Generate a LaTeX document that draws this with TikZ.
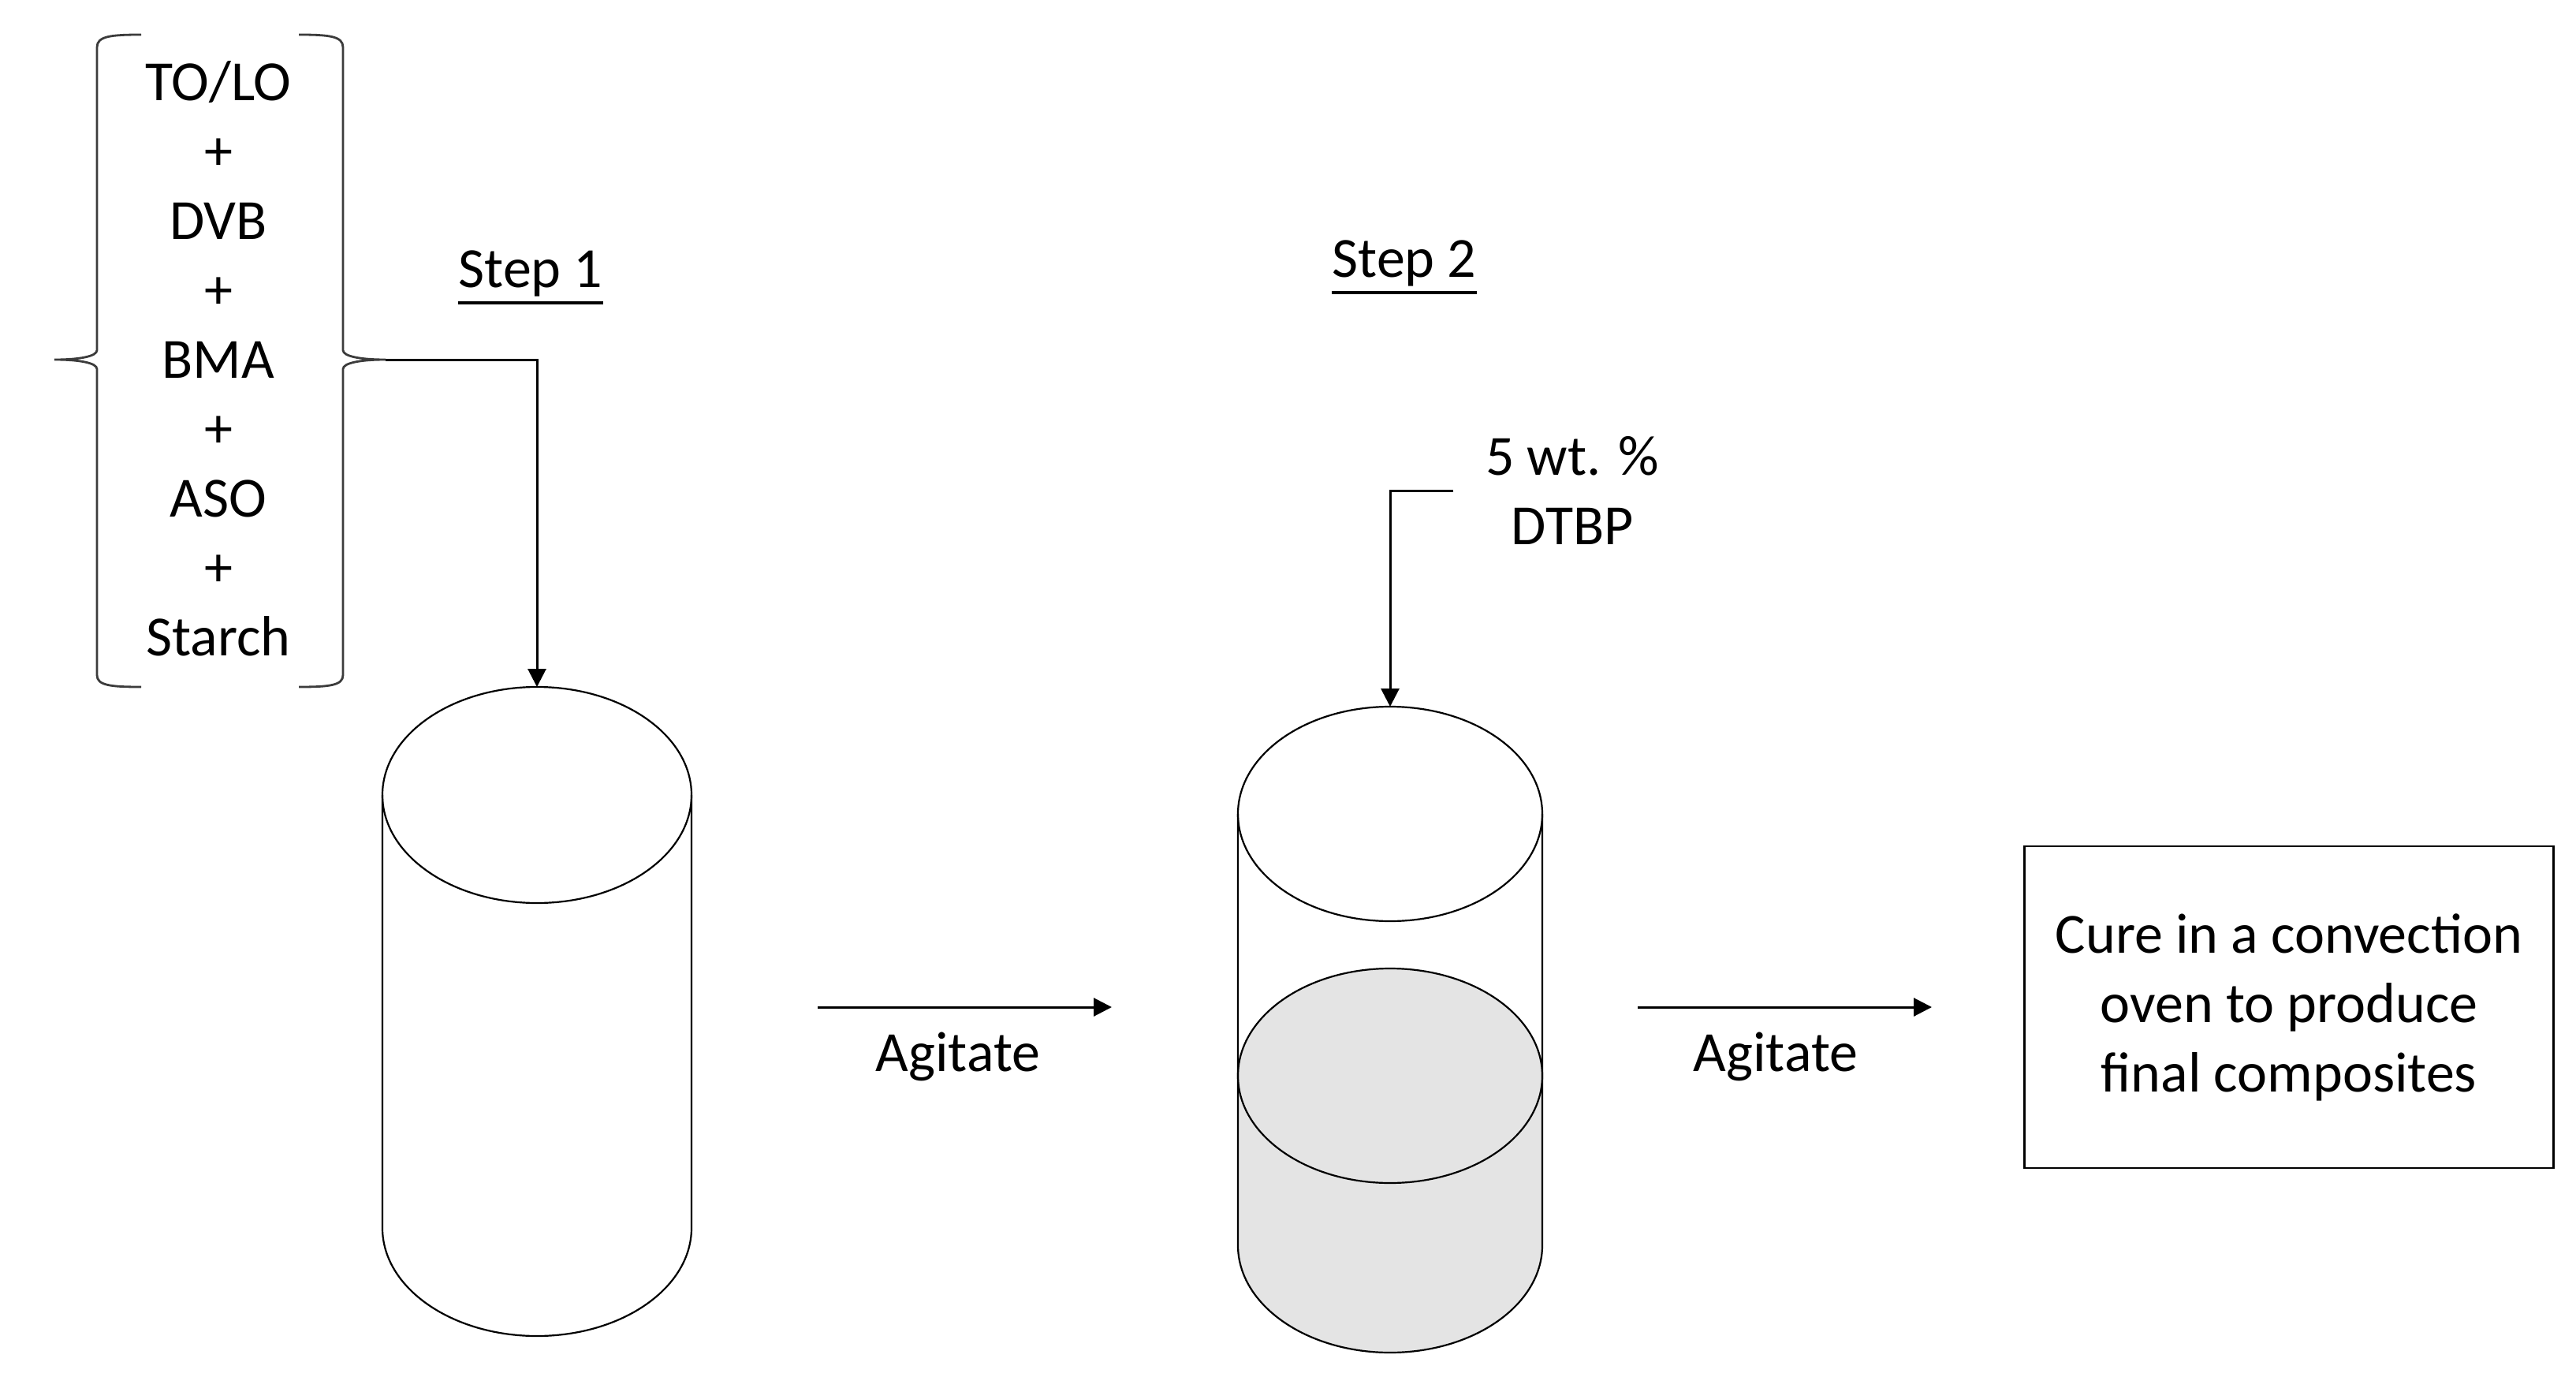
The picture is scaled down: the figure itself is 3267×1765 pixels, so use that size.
\documentclass[tikz,border=0pt]{standalone}
\usepackage{fontspec}
\setmainfont{Carlito}
\usetikzlibrary{arrows.meta}
\definecolor{liq}{RGB}{228,228,228}
\definecolor{brk}{RGB}{60,60,60}
\begin{document}
\begin{tikzpicture}[x=0.25pt,y=0.25pt,
  lbl/.style={font=\fontsize{18}{22}\selectfont, align=center, inner sep=0pt},
  conn/.style={line width=0.75pt, -{Triangle[length=5.75pt,width=5.75pt]}},
  vessel/.style={line width=0.55pt},
  bracket/.style={brk, line width=0.7pt},
  uline/.style={line width=0.9pt}
  ]
\useasboundingbox (0,0) rectangle (3267,-1765);

% brackets
\draw[bracket] (179,-44) .. controls (140,-44) and (123,-46) .. (123,-60) -- (123,-444)
  .. controls (123,-452) and (100,-456) .. (69,-456)
  .. controls (100,-456) and (123,-460) .. (123,-468) -- (123,-856)
  .. controls (123,-869) and (140,-871) .. (179,-871);
\draw[bracket] (379,-44) .. controls (418,-44) and (435,-46) .. (435,-60) -- (435,-444)
  .. controls (435,-452) and (458,-456) .. (489,-456)
  .. controls (458,-456) and (435,-460) .. (435,-468) -- (435,-856)
  .. controls (435,-869) and (418,-871) .. (379,-871);
\node[lbl] (mix) at (277,-455) {TO/LO\\+\\DVB\\+\\BMA\\+\\ASO\\+\\Starch};
\coordinate (brtip) at (489,-456);

\node[lbl] (step1) at (673,-347) {Step 1};
\draw[uline] ([yshift=-1.8pt]step1.south west) -- ([yshift=-1.8pt]step1.south east);
\node[lbl] (step2) at (1781,-334) {Step 2};
\draw[uline] ([yshift=-1.8pt]step2.south west) -- ([yshift=-1.8pt]step2.south east);

% cylinder 1
\coordinate (cyl1top) at (681,-871);
\draw[vessel] (681,-1008) ellipse [x radius=49pt, y radius=34.25pt];
\draw[vessel] (485,-1008) -- (485,-1557) arc[start angle=180, end angle=360, x radius=49pt, y radius=34.25pt] -- (877,-1008);
\draw[conn] (brtip) -| (cyl1top);

% cylinder 2
\coordinate (cyl2top) at (1763,-896);
\fill[liq] (1570,-1364) -- (1570,-1579) arc[start angle=180, end angle=360, x radius=48.25pt, y radius=34pt] -- (1956,-1364) -- cycle;
\filldraw[vessel, fill=liq] (1763,-1364) ellipse [x radius=48.25pt, y radius=34pt];
\draw[vessel] (1763,-1032) ellipse [x radius=48.25pt, y radius=34pt];
\draw[vessel] (1570,-1032) -- (1570,-1579) arc[start angle=180, end angle=360, x radius=48.25pt, y radius=34pt] -- (1956,-1032);

\node[lbl] (dtbp) at (1994,-622) {5 wt. \%\\DTBP};
\draw[conn] ([xshift=-10pt]dtbp.west) -| (cyl2top);

% agitate arrows
\coordinate (a1s) at (1037,-1277);
\coordinate (a1e) at (1410,-1277);
\draw[conn] (a1s) -- (a1e);
\node[lbl] (ag1) at (1215,-1340) {Agitate};
\coordinate (a2s) at (2077,-1277);
\coordinate (a2e) at (2450,-1277);
\draw[conn] (a2s) -- (a2e);
\node[lbl] (ag2) at (2252,-1340) {Agitate};

% cure box
\node[lbl, draw, line width=0.7pt, minimum width=167.75pt, minimum height=102pt] (cure) at (2903,-1277) {Cure in a convection\\oven to produce\\final composites};
\end{tikzpicture}
\end{document}
